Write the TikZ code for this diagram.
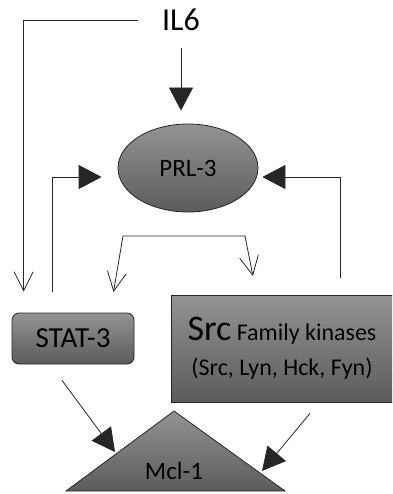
\documentclass[tikz,border=0pt]{standalone}
\usepackage{fontspec}
\setmainfont{Carlito}
\usetikzlibrary{arrows.meta,shapes.geometric}
\definecolor{boxtop}{HTML}{939393}
\definecolor{boxbot}{HTML}{5C5C5C}

\begin{document}
\begin{tikzpicture}[
  x=1pt, y=-1pt,
  protein/.style={draw=black!85, line width=0.8pt, top color=boxtop, bottom color=boxbot, font=\fontsize{25}{30}\selectfont, inner sep=0pt},
  fat/.style={-{Triangle[length=23pt,width=24pt]}, line width=0.8pt, draw=black!85},
  barb/.style={-{Straight Barb[length=19pt,width=19pt]}, line width=0.8pt, draw=black!85}
]
\clip (0,0) rectangle (392,494);

\node[font=\fontsize{32}{38}\selectfont, inner sep=0pt] (il6) at (181,20) {IL6};
\node[protein, ellipse, minimum width=140pt, minimum height=88pt] (prl3) at (188,168) {PRL-3};
\node[protein, rectangle, rounded corners=7pt, minimum width=122pt, minimum height=51pt, font=\fontsize{29}{33}\selectfont] (stat3) at (73,338.5) {STAT-3};
\node[protein, rectangle, minimum width=222pt, minimum height=107pt, align=center, font=\fontsize{24}{29}\selectfont] (src) at (282,348.5)
  {{\fontsize{36}{36}\selectfont Src} Family kinases\\[6pt](Src, Lyn, Hck, Fyn)};
\draw[protein] (66,491) -- (174,411) -- (285,491) -- cycle;
\node[font=\fontsize{25}{30}\selectfont, inner sep=0pt] (mcl1) at (174,471) {Mcl-1};

\coordinate (split-l) at (123,236);
\coordinate (split-r) at (245,236);
\coordinate (mcl-l) at (115,452);
\coordinate (mcl-r) at (262,471);

\draw[fat, shorten <=17pt, shorten >=13pt] (il6.south) -- (il6.south |- prl3.north);
\draw[barb, shorten <=24pt, shorten >=21pt] (il6.west) -| ([xshift=12pt]stat3.north west);
\draw[fat, shorten <=21pt, shorten >=16pt] ([xshift=41pt]stat3.north west) |- ([yshift=-9pt]prl3.west);
\draw[fat, shorten <=17pt, shorten >=4pt] ([xshift=58pt]src.north) |- ([yshift=-9pt]prl3.east);
\draw[barb, shorten >=21pt] (split-l) -- ([xshift=37pt]stat3.north);
\draw[barb, shorten >=19pt] (split-l) -- (split-r) -- ([xshift=86pt]src.north west);
\draw[fat] ([xshift=-11pt,yshift=-16pt]stat3.south) -- (mcl-l);
\draw[fat] ([xshift=28pt,yshift=-11pt]src.south) -- (mcl-r);
\end{tikzpicture}
\end{document}
